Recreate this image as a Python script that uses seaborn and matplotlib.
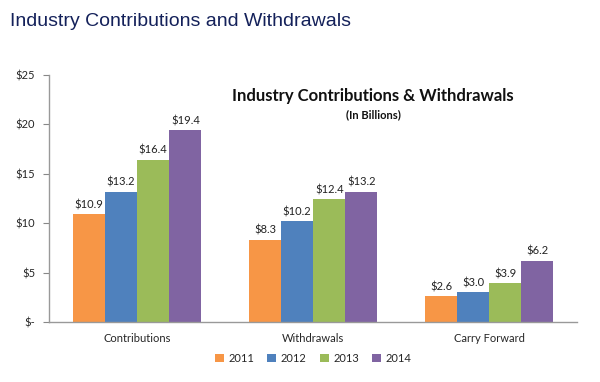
import numpy as np
import pandas as pd
import matplotlib
matplotlib.use('Agg')
import matplotlib.pyplot as plt
import seaborn as sns

categories = ['Contributions', 'Withdrawals', 'Carry Forward']
years = ['2011', '2012', '2013', '2014']
values_2011 = [10.9, 8.3, 2.6]
values_2012 = [13.2, 10.2, 3.0]
values_2013 = [16.4, 12.4, 3.9]
values_2014 = [19.4, 13.2, 6.2]
y_ticks = [0, 5, 10, 15, 20, 25]
y_tick_labels = ['$-', '$5', '$10', '$15', '$20', '$25']
palette = ['#F79646', '#4F81BD', '#9BBB59', '#8064A2']

rows = []
for year, vals in zip(years, [values_2011, values_2012, values_2013, values_2014]):
    for cat, v in zip(categories, vals):
        rows.append({'Category': cat, 'Year': year, 'Value': v})
df = pd.DataFrame(rows)

sns.set_style('white')
plt.rcParams['font.family'] = ['Lato', 'DejaVu Sans']

fig = plt.figure(figsize=(6, 3.82), dpi=100)
ax = fig.add_axes([0.082, 0.157, 0.88, 0.647])

sns.barplot(data=df, x='Category', y='Value', hue='Year', palette=palette,
            width=0.73, saturation=1, linewidth=0, ax=ax, legend=True)

for container in ax.containers:
    ax.bar_label(container, labels=[f'${v:.1f}' for v in container.datavalues],
                 padding=3, fontsize=8, color='#222222')

ax.set_ylim(0, 25)
ax.set_xlim(-0.5, 2.5)
ax.set_yticks(y_ticks)
ax.set_yticklabels(y_tick_labels)
ax.set_xlabel('')
ax.set_ylabel('')
ax.tick_params(axis='y', length=4, color='#888888', labelsize=8, pad=6, left=True)
ax.tick_params(axis='x', length=0, labelsize=8, pad=8)
for s in ['top', 'right']:
    ax.spines[s].set_visible(False)
for s in ['left', 'bottom']:
    ax.spines[s].set_color('#999999')
    ax.spines[s].set_linewidth(1)

ax.legend(loc='center', bbox_to_anchor=(0.5, -0.148), ncol=4, frameon=False,
          fontsize=8, handlelength=0.8, handleheight=0.8, handletextpad=0.4,
          columnspacing=1.2)

fig.text(0.017, 0.945, 'Industry Contributions and Withdrawals', fontsize=14,
         color='#14215A', family=['Liberation Sans', 'DejaVu Sans'], va='center')
fig.text(0.622, 0.749, 'Industry Contributions & Withdrawals', fontsize=12,
         fontweight='bold', ha='center', va='center', color='#111111')
fig.text(0.622, 0.699, '(In Billions)', fontsize=8, fontweight='bold',
         ha='center', va='center', color='#111111')

fig.savefig('out.png', dpi=100)
